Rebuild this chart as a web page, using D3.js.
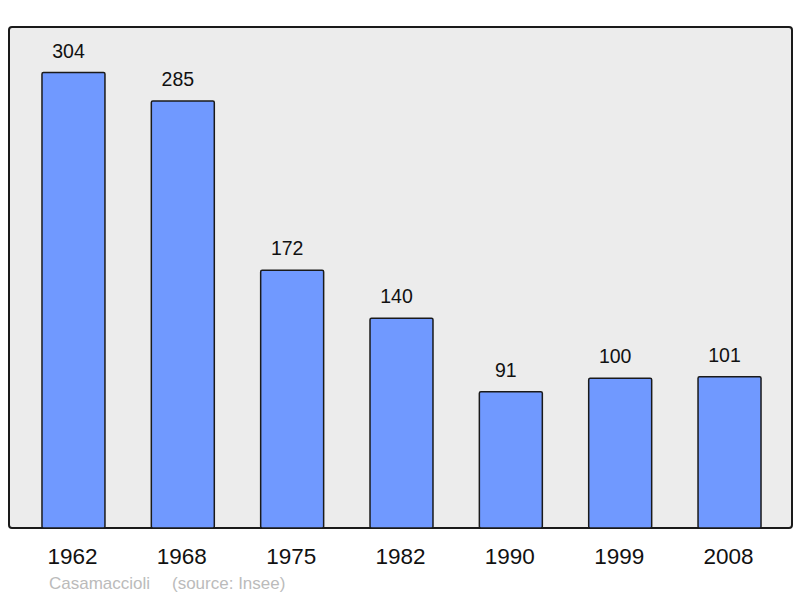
<!DOCTYPE html>
<html>
<head>
<meta charset="utf-8">
<script src="https://cdn.jsdelivr.net/npm/d3@7"></script>
<style>
  body { margin: 0; background: #fff; }
  text { font-family: "Liberation Sans", Arial, sans-serif; }
</style>
</head>
<body>
<div id="chart"></div>
<script>
var years = ["1962", "1968", "1975", "1982", "1990", "1999", "2008"];
var population = [304, 285, 172, 140, 91, 100, 101];
var commune = "Casamaccioli";
var source = "(source: Insee)";

var width = 800, height = 598;
var panel = {left: 9, top: 27, right: 792, bottom: 528};

var svg = d3.select('#chart').append('svg')
  .attr('width', width)
  .attr('height', height);

svg.append('rect')
  .attr('x', panel.left)
  .attr('y', panel.top)
  .attr('width', panel.right - panel.left)
  .attr('height', panel.bottom - panel.top)
  .attr('rx', 3)
  .attr('fill', '#ececec')
  .attr('stroke', '#1a1a1a')
  .attr('stroke-width', 2);

var x = d3.scaleBand().domain(years).range([18.8, 784.2]).paddingInner(0.424).paddingOuter(0.212);
var y = d3.scaleLinear().domain([0, d3.max(population) * 1.1]).range([panel.bottom, panel.top]);

var data = years.map(function(d, i) { return {year: d, value: population[i]}; });

svg.selectAll('.bar')
  .data(data)
  .enter().append('rect')
  .attr('class', 'bar')
  .attr('x', function(d) { return x(d.year); })
  .attr('y', function(d) { return y(d.value); })
  .attr('width', x.bandwidth())
  .attr('height', function(d) { return panel.bottom - y(d.value); })
  .attr('rx', 1.5)
  .attr('fill', '#7099ff')
  .attr('stroke', '#1a1a1a')
  .attr('stroke-width', 1.5);

// value labels sit a little left of the bar centre in the original
svg.selectAll('.val')
  .data(data)
  .enter().append('text')
  .attr('class', 'val')
  .attr('x', function(d) { return x(d.year) + x.bandwidth() / 2 - 5; })
  .attr('y', function(d) { return y(d.value) - 15; })
  .attr('text-anchor', 'middle')
  .attr('font-size', 19.5)
  .attr('fill', '#111')
  .text(function(d) { return d.value; });

svg.selectAll('.year')
  .data(data)
  .enter().append('text')
  .attr('class', 'year')
  .attr('x', function(d) { return x(d.year) + x.bandwidth() / 2 - 1; })
  .attr('y', 564)
  .attr('text-anchor', 'middle')
  .attr('font-size', 22.5)
  .attr('fill', '#111')
  .text(function(d) { return d.year; });

svg.append('text')
  .attr('x', 49)
  .attr('y', 589)
  .attr('font-size', 17)
  .attr('fill', '#bbbbbb')
  .text(commune);

svg.append('text')
  .attr('x', 172)
  .attr('y', 589)
  .attr('font-size', 17)
  .attr('fill', '#bbbbbb')
  .text(source);
</script>
</body>
</html>
